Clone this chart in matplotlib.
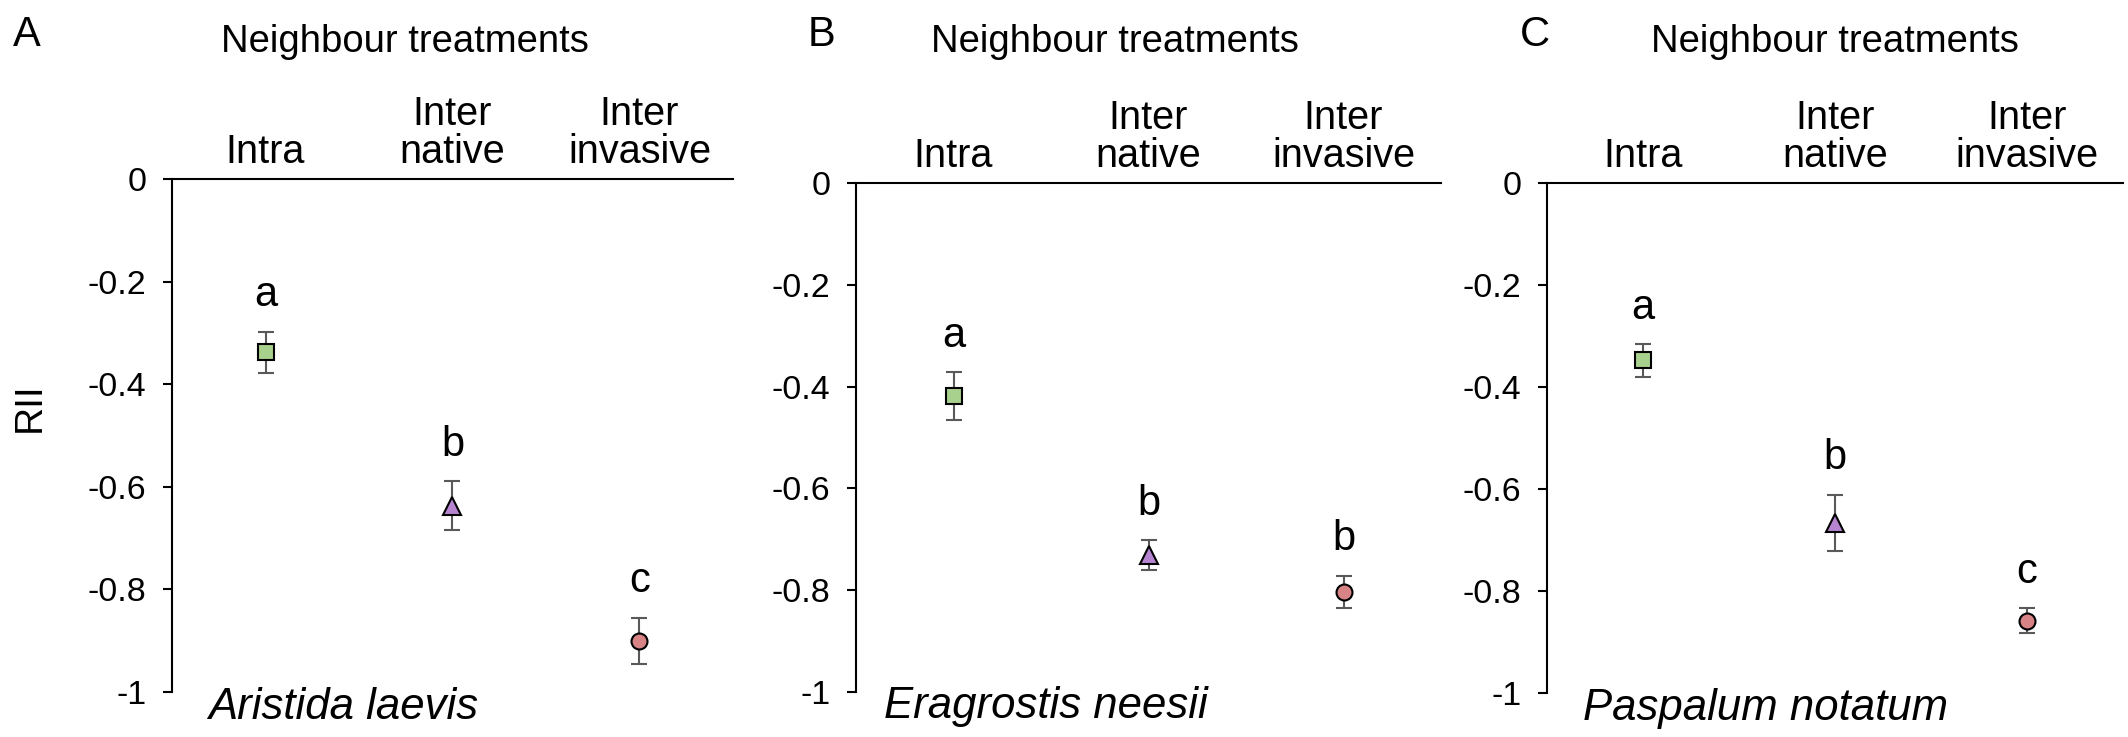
import matplotlib
matplotlib.use('Agg')
import matplotlib.pyplot as plt

plt.rcParams['font.family'] = ['Liberation Sans', 'DejaVu Sans']

# treatments along the top axis
treatments = ['Intra', 'Inter\nnative', 'Inter\ninvasive']
species = ['Aristida laevis', 'Eragrostis neesii', 'Paspalum notatum']
panel_labels = ['A', 'B', 'C']

# RII means and error (SE) per species, in treatment order
rii_aristida = [-0.338, -0.637, -0.900]
err_aristida = [0.040, 0.048, 0.045]
rii_eragrostis = [-0.419, -0.731, -0.803]
err_eragrostis = [0.047, 0.029, 0.031]
rii_paspalum = [-0.348, -0.666, -0.858]
err_paspalum = [0.032, 0.055, 0.024]

# significance letters
letters_aristida = ['a', 'b', 'c']
letters_eragrostis = ['a', 'b', 'b']
letters_paspalum = ['a', 'b', 'c']

means = [rii_aristida, rii_eragrostis, rii_paspalum]
errs = [err_aristida, err_eragrostis, err_paspalum]
letters = [letters_aristida, letters_eragrostis, letters_paspalum]

markers = ['s', '^', 'o']
colors = ['#a9d18e', '#b784d1', '#d88486']

W, H = 2128, 737
fig = plt.figure(figsize=(W / 100, H / 100), dpi=100)

# axes boxes in pixels: left, right, top, bottom
boxes = [(172, 733, 179, 692), (856, 1441, 183, 692), (1547, 2123, 183, 693)]
title_x = [405, 1115, 1835]
letter_x = [13, 808, 1520]
species_dx = [36, 28, 36]

for k in range(3):
    l, r, t, b = boxes[k]
    ax = fig.add_axes([l / W, 1 - b / H, (r - l) / W, (b - t) / H])
    xs = [1, 2, 3]
    for i in range(3):
        ax.errorbar(xs[i], means[k][i], yerr=errs[k][i], fmt='none',
                    ecolor='#595959', elinewidth=1.5, capsize=5.5, capthick=1.5, zorder=2)
        ax.plot(xs[i], means[k][i], marker=markers[i], ms=11.5 if i != 1 else 12.5,
                mfc=colors[i], mec='black', mew=1.5, ls='none', zorder=3)
        ax.text(xs[i], means[k][i] + errs[k][i] + 0.05, letters[k][i],
                ha='center', va='baseline', fontsize=30)

    ax.set_xlim(0.5, 3.5)
    ax.set_ylim(-1, 0)
    ax.set_yticks([0, -0.2, -0.4, -0.6, -0.8, -1])
    ax.set_yticklabels(['0', '-0.2', '-0.4', '-0.6', '-0.8', '-1'])
    ax.tick_params(axis='y', length=6.5, width=1.5, labelsize=24.5, pad=12)
    ax.xaxis.tick_top()
    ax.set_xticks(xs)
    ax.set_xticklabels(treatments, fontsize=28.5, linespacing=1.0)
    ax.tick_params(axis='x', length=0, pad=6)
    for s in ['right', 'bottom']:
        ax.spines[s].set_visible(False)
    ax.spines['left'].set_linewidth(1.5)
    ax.spines['top'].set_linewidth(1.5)

    ax.text(species_dx[k] / (r - l), -0.052, species[k], transform=ax.transAxes,
            fontsize=31.5, style='italic', ha='left', va='baseline')

    fig.text(title_x[k] / W, 1 - 52 / H, 'Neighbour treatments', fontsize=27.5,
             ha='center', va='baseline')
    fig.text(letter_x[k] / W, 1 - 46 / H, panel_labels[k], fontsize=30,
             ha='left', va='baseline')

fig.text(30 / W, 1 - 407 / H, 'RII', fontsize=28, rotation=90, ha='center', va='center')

fig.savefig('out.png', dpi=100, facecolor='white')
